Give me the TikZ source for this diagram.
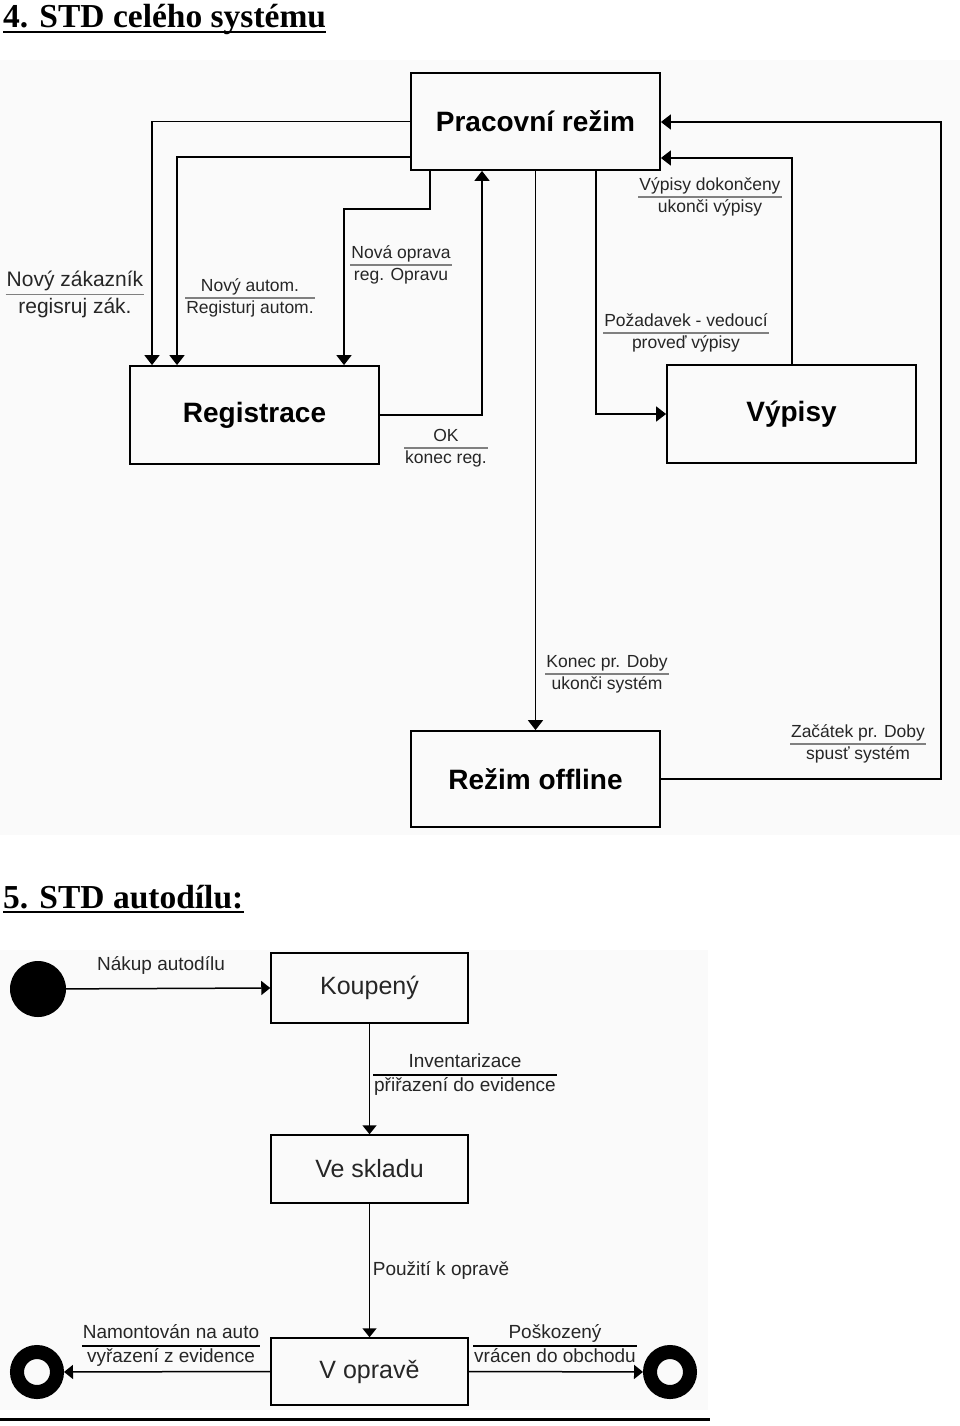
\documentclass[tikz,border=0pt]{standalone}
\usepackage{fontspec}
\setmainfont{Liberation Serif}
\setsansfont{Liberation Sans}
\usetikzlibrary{arrows.meta}
\newcommand\twoline[4][black!85]{{\setlength\tabcolsep{1pt}\setlength\arrayrulewidth{1.2pt}\color{#2}\begin{tabular}{c}\color{#1}#3\\\hline\color{#1}#4\end{tabular}}}
\begin{document}
\begin{tikzpicture}[x=1pt,y=-1pt,
  box/.style={draw, line width=1.8pt, inner sep=0pt, minimum width=249pt, font=\sffamily\bfseries\fontsize{28}{32}\selectfont},
  sbox/.style={draw, line width=1.5pt, inner sep=0pt, minimum width=197pt, font=\sffamily\fontsize{25}{30}\selectfont, text=black!85},
  lbl/.style={inner sep=0pt, font=\sffamily\fontsize{17.5}{21}\selectfont},
  blbl/.style={inner sep=0pt, font=\sffamily\fontsize{19}{22.5}\selectfont, text=black!85},
  conn/.style={line width=1.8pt, -{Triangle[width=15pt,length=10pt]}},
  sconn/.style={line width=1.5pt, -{Triangle[width=14pt,length=9pt]}},
  endst/.style={circle, draw, line width=14pt, minimum size=40pt, inner sep=0pt},
  title/.style={inner sep=0pt, anchor=base west, font=\rmfamily\bfseries\fontsize{33.5}{40}\selectfont}]
\useasboundingbox (0,0) rectangle (960,1426);
\fill[black!2] (0,60) rectangle (960,835);
\fill[black!2] (0,950) rectangle (708,1410);

% ---- titles ----
\node[title] (t1) at (3,28) {4. STD celého systému};
\draw[line width=2.2pt] ([yshift=-4pt]t1.base west) -- ([yshift=-4pt]t1.base east);
\node[title] (t2) at (3,908) {5. STD autodílu:};
\draw[line width=2.2pt] ([yshift=-4pt]t2.base west) -- ([yshift=-4pt]t2.base east);

% ---- diagram 4 ----
\node[box, minimum height=97pt] (prac) at (535.5,121.5) {Pracovní režim};
\node[box, minimum height=98pt] (reg) at (254.5,415) {Registrace};
\node[box, minimum height=98pt] (vyp) at (791.5,414) {Výpisy};
\node[box, minimum height=96pt] (off) at (535.5,779) {Režim offline};

\coordinate (k1) at (152,0);
\coordinate (k2) at (177,157);
\coordinate (k3a) at (430,209);
\coordinate (k3b) at (344,0);
\coordinate (k4) at (482,0);
\coordinate (k6) at (941,122);
\coordinate (k7) at (596,0);
\coordinate (k8) at (792,158);

\draw[conn] (prac.west) -| (reg.north -| k1);
\draw[conn] (prac.west |- k2) -| (reg.north -| k2);
\draw[conn] (prac.south -| k3a) -- (k3a) -| (reg.north -| k3b);
\draw[conn] (reg.east) -| (prac.south -| k4);
\draw[conn] (prac.south) -- (off.north);
\draw[conn] (off.east) -| (k6) -- (prac.east |- k6);
\draw[conn] (prac.south -| k7) |- (vyp.west);
\draw[conn] (vyp.north -| k8) |- (prac.east |- k8);

\node[lbl, font=\sffamily\fontsize{21}{26}\selectfont] (l1) at (75,294.5) {\twoline{gray}{Nový zákazník}{regisruj zák.}};
\node[lbl] (l2) at (250,298) {\twoline{gray}{Nový autom.}{Registurj autom.}};
\node[lbl] (l3) at (401,265) {\twoline{gray}{Nová oprava}{reg. Opravu}};
\node[lbl] (l4) at (446,448) {\twoline{gray}{OK}{konec reg.}};
\node[lbl] (l5) at (607,674) {\twoline{gray}{Konec pr. Doby}{ukonči systém}};
\node[lbl] (l6) at (858,744) {\twoline{gray}{Začátek pr. Doby}{spusť systém}};
\node[lbl] (l7) at (686,333) {\twoline{gray}{Požadavek - vedoucí}{proveď výpisy}};
\node[lbl] (l8) at (710,197) {\twoline{gray}{Výpisy dokončeny}{ukonči výpisy}};

% ---- diagram 5 ----
\node[circle, fill=black, minimum size=56pt, inner sep=0pt] (init) at (38,989) {};
\node[sbox, minimum height=70pt] (koup) at (369.5,988) {Koupený};
\node[sbox, minimum height=68pt] (skl) at (369.5,1169) {Ve skladu};
\node[sbox, minimum height=67pt] (opr) at (369.5,1371.5) {V opravě};
\node[endst] (fin1) at (37,1372) {};
\node[endst] (fin2) at (670,1372) {};

\draw[sconn] (init) -- (koup.west);
\draw[sconn] (koup.south) -- (skl.north);
\draw[sconn] (skl.south) -- (opr.north);
\draw[sconn] (opr.west) -- (fin1);
\draw[sconn] (opr.east) -- (fin2);

\node[blbl] (m1) at (161,965) {Nákup autodílu};
\node[blbl] (m2) at (465,1075) {\twoline{black}{\hspace*{28pt}Inventarizace\hspace*{28pt}}{přiřazení do evidence}};
\node[blbl] (m3) at (441,1270) {Použití k opravě};
\node[blbl] (m4) at (171,1346) {\twoline{black}{Namontován na auto}{vyřazení z evidence}};
\node[blbl] (m5) at (555,1346) {\twoline{black}{Poškozený}{vrácen do obchodu}};

\draw[line width=3pt] (0,1419) -- (710,1419);
\end{tikzpicture}
\end{document}
